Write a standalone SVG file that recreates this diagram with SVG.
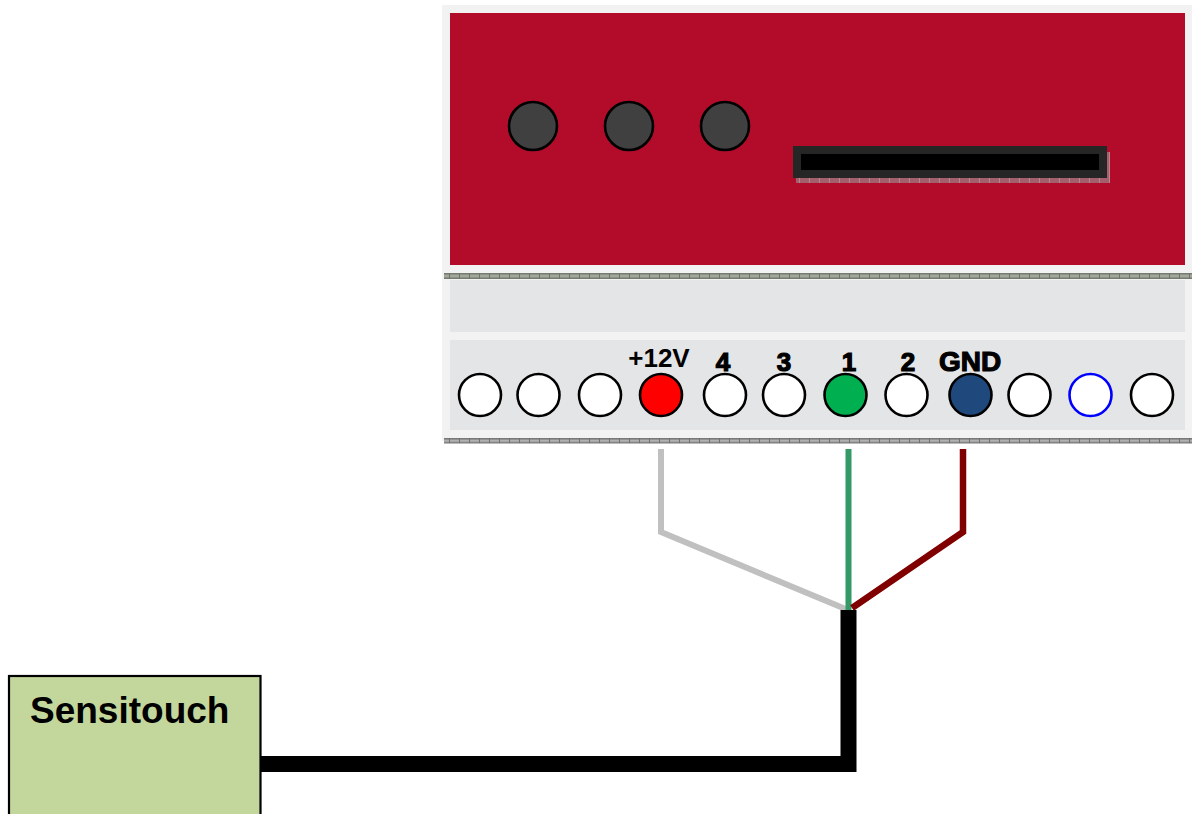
<svg xmlns="http://www.w3.org/2000/svg" width="1192" height="814" viewBox="0 0 1192 814">
<style>
text{font-family:"Liberation Sans",Arial,sans-serif;font-weight:bold;fill:#000}
.pin{stroke:#000;stroke-width:2.600;fill:#fff}
.knob{stroke:#000;stroke-width:2.600;fill:#404040}
.heavy{stroke:#000;stroke-width:1.200}
.wire{fill:none;stroke-linejoin:miter}
</style>
<defs>
<pattern id="hatch" width="10" height="6" patternUnits="userSpaceOnUse" y="273">
<rect width="10" height="6" fill="#a3a89c"/>
<rect y="0" width="10" height="1.500" fill="#767c70"/>
<rect y="4.500" width="10" height="1.500" fill="#767c70"/>
<rect x="9" width="1" height="6" fill="#6f7568"/>
</pattern>
<pattern id="hatch2" width="10" height="5.500" patternUnits="userSpaceOnUse" y="438">
<rect width="10" height="5.500" fill="#b0b0b0"/>
<rect y="0" width="10" height="1.500" fill="#787878"/>
<rect y="4" width="10" height="1.500" fill="#787878"/>
<rect x="9" width="1" height="5.500" fill="#707070"/>
</pattern>
<pattern id="hatch3" width="10" height="5" patternUnits="userSpaceOnUse">
<rect width="10" height="5" fill="#a3606c"/>
<rect x="9" width="1" height="5" fill="#b8868f"/>
</pattern>
</defs>
<g id="controller">
<rect x="442" y="5" width="750" height="436" fill="#f2f2f2"/>
<rect x="450" y="13" width="735" height="252" fill="#b20c2a"/>
<rect x="444" y="273" width="748" height="6" fill="url(#hatch)"/>
<rect x="450" y="280" width="735" height="52" fill="#e4e5e7"/>
<rect x="450" y="340" width="735" height="90" fill="#e4e5e7"/>
<rect x="444" y="438" width="748" height="5.500" fill="url(#hatch2)"/>
</g>
<g id="knobs">
<circle class="knob" cx="533" cy="126" r="24"/>
<circle class="knob" cx="629" cy="126" r="24"/>
<circle class="knob" cx="725" cy="126" r="24"/>
</g>
<g id="slot">
<rect x="796" y="152" width="314" height="31" fill="url(#hatch3)"/>
<rect x="793" y="146" width="314" height="32" fill="#262626"/>
<rect x="801" y="154" width="298" height="16" fill="#000"/>
</g>
<g id="pins">
<circle class="pin" cx="480" cy="395" r="21"/>
<circle class="pin" cx="538.500" cy="395" r="21"/>
<circle class="pin" cx="600" cy="395" r="21"/>
<circle class="pin" cx="661" cy="395" r="21" style="fill:#f00"/>
<circle class="pin" cx="725" cy="395" r="21"/>
<circle class="pin" cx="784" cy="395" r="21"/>
<circle class="pin" cx="845.500" cy="395" r="21" style="fill:#00b050"/>
<circle class="pin" cx="906.500" cy="395" r="21"/>
<circle class="pin" cx="970.500" cy="395" r="21" style="fill:#1f497d"/>
<circle class="pin" cx="1029.500" cy="395" r="21"/>
<circle class="pin" cx="1090.500" cy="395" r="21" style="stroke:#00f"/>
<circle class="pin" cx="1152" cy="395" r="21"/>
</g>
<g id="pin-labels">
<text x="659" y="367" font-size="26" text-anchor="middle">+12V</text>
<text class="heavy" x="723" y="371" font-size="26" text-anchor="middle">4</text>
<text class="heavy" x="784" y="371" font-size="26" text-anchor="middle">3</text>
<text class="heavy" x="849" y="371" font-size="26" text-anchor="middle">1</text>
<text class="heavy" x="908" y="371" font-size="26" text-anchor="middle">2</text>
<text class="heavy" x="970" y="371" font-size="28" text-anchor="middle">GND</text>
</g>
<g id="connectors">
<polyline class="wire" points="661,449 661,532 848,610" stroke="#c0c0c0" stroke-width="6"/>
<line class="wire" x1="848.500" y1="449" x2="848.500" y2="610" stroke="#339966" stroke-width="6"/>
<polyline class="wire" points="963,449 963,532 852,608" stroke="#800000" stroke-width="6.500"/>
<polyline class="wire" points="848.500,610 848.500,764 260,764" stroke="#000" stroke-width="16"/>
</g>
<g id="sensitouch">
<rect x="9" y="676" width="251.500" height="150" fill="#c3d69b" stroke="#000" stroke-width="2.200"/>
<text x="30" y="723" font-size="37">Sensitouch</text>
</g>
</svg>
